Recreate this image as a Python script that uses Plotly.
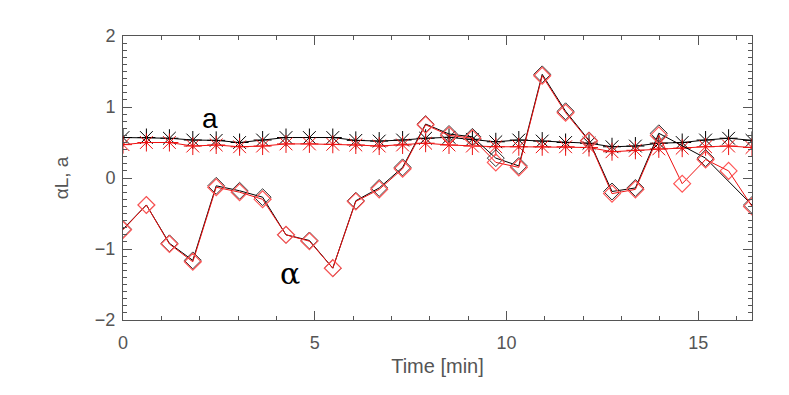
import plotly.graph_objects as go

time = [0.0, 0.61, 1.21, 1.82, 2.43, 3.04, 3.64, 4.25, 4.86, 5.47, 6.07, 6.68, 7.29, 7.89,
        8.5, 9.11, 9.72, 10.32, 10.93, 11.54, 12.15, 12.75, 13.36, 13.97, 14.58, 15.19, 15.79, 16.4]

a_black = [0.57, 0.57, 0.56, 0.535, 0.53, 0.50, 0.535, 0.57, 0.57, 0.57, 0.53, 0.52, 0.535, 0.56,
           0.573, 0.545, 0.51, 0.535, 0.52, 0.50, 0.49, 0.44, 0.45, 0.49, 0.50, 0.535, 0.56, 0.53]
a_red = [0.47, 0.50, 0.50, 0.45, 0.465, 0.44, 0.45, 0.48, 0.48, 0.475, 0.465, 0.45, 0.465, 0.49,
         0.465, 0.45, 0.44, 0.44, 0.44, 0.44, 0.43, 0.37, 0.39, 0.41, 0.42, 0.44, 0.45, 0.43]

alpha_red = [-0.73, -0.38, -0.93, -1.18, -0.13, -0.2, -0.3, -0.8, -0.89, -1.27, -0.33, -0.16, 0.13, 0.75,
             0.6, 0.56, 0.22, 0.15, 1.44, 0.92, 0.52, -0.22, -0.16, 0.6, -0.08, 0.26, 0.1, -0.40]

time_black_alpha = [0.0, 0.61, 1.21, 1.82, 2.43, 3.04, 3.64, 4.25, 4.86, 5.47, 6.07, 6.68, 7.29, 7.89,
                    8.5, 9.11, 9.72, 10.32, 10.93, 11.54, 12.15, 12.75, 13.36, 13.97, 15.19, 16.4]
alpha_black = [-0.72, -0.38, -0.92, -1.16, -0.11, -0.18, -0.27, -0.8, -0.88, -1.27, -0.32, -0.14, 0.15, 0.76,
               0.62, 0.58, 0.28, 0.17, 1.46, 0.94, 0.53, -0.19, -0.14, 0.63, 0.28, -0.38]

x_ticks = [0, 5, 10, 15]
y_ticks = [-2, -1, 0, 1, 2]

RED = "#ee1111"
AX = "#555555"
FONT = "Liberation Sans"

fig = go.Figure()
fig.add_trace(go.Scatter(x=time, y=a_black, mode="lines+markers",
                         line=dict(color="black", width=1),
                         marker=dict(symbol="asterisk-open", size=15, color="black",
                                     line=dict(color="#222222", width=1))))
fig.add_trace(go.Scatter(x=time, y=a_red, mode="lines+markers",
                         line=dict(color=RED, width=1),
                         marker=dict(symbol="asterisk-open", size=15, color=RED,
                                     line=dict(color=RED, width=1))))
fig.add_trace(go.Scatter(x=time_black_alpha, y=alpha_black, mode="lines+markers",
                         line=dict(color="black", width=1),
                         marker=dict(symbol="diamond-open", size=13, color="#333333",
                                     line=dict(color="#333333", width=1))))
fig.add_trace(go.Scatter(x=time, y=alpha_red, mode="lines+markers",
                         line=dict(color=RED, width=1),
                         marker=dict(symbol="diamond-open", size=13, color="#ff5555",
                                     line=dict(color="#ff5555", width=1.2))))

fig.add_annotation(x=2.27, y=0.84, text="a", showarrow=False,
                   font=dict(family=FONT, size=28, color="black"))
fig.add_annotation(x=4.35, y=-1.35, text="α", showarrow=False,
                   font=dict(family="DejaVu Serif", size=30, color="black"))

fig.update_layout(
    width=789, height=395,
    margin=dict(l=115, r=45, t=28, b=83, autoexpand=False),
    paper_bgcolor="white", plot_bgcolor="white",
    showlegend=False,
    font=dict(family=FONT, size=18, color="#555555"),
)
fig.update_xaxes(range=[0, 16.4], tickvals=x_ticks, ticktext=[str(v) for v in x_ticks],
                 ticks="inside", ticklen=9, tickcolor=AX, showline=True, linecolor=AX,
                 linewidth=1, mirror="ticks", showgrid=False, zeroline=False, automargin=False,
                 minor=dict(dtick=1, ticks="inside", ticklen=4, tickcolor=AX, showgrid=False),
                 title=dict(text="Time [min]", font=dict(size=20), standoff=7),
                 ticklabelstandoff=6,
                 tickfont=dict(size=18))
fig.update_yaxes(range=[-2, 2], tickvals=y_ticks, ticktext=[str(v).replace("-", "\u2212") for v in y_ticks],
                 ticks="inside", ticklen=9, tickcolor=AX, showline=True, linecolor=AX,
                 linewidth=1, mirror="ticks", showgrid=False, zeroline=False, automargin=False,
                 minor=dict(dtick=0.1, ticks="inside", ticklen=4, tickcolor=AX, showgrid=False),
                 title=dict(text="αL, a", font=dict(size=19), standoff=21),
                 ticklabelstandoff=3,
                 tickfont=dict(size=18))

fig.write_html("out.html")
